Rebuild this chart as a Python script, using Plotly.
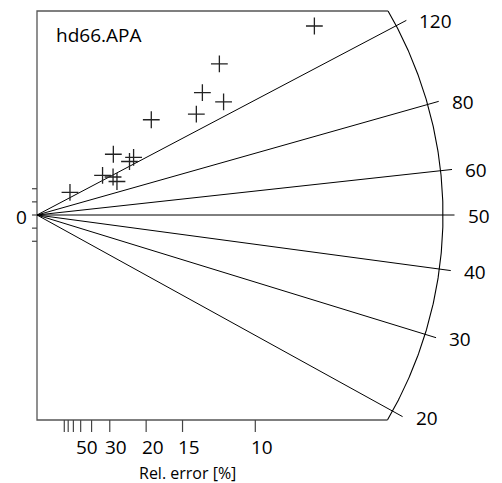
import numpy as np
import plotly.graph_objects as go

# Single-grain ages and their relative standard errors (%)
ages = [156.8, 136.2, 114.7, 100.3, 187.5, 130.7, 134.6, 199.6, 143.0, 170.9, 136.8, 198.0, 155.1]
rel_err = [66.2, 33.3, 28.7, 27.3, 28.6, 23.6, 22.6, 19.1, 13.7, 13.2, 11.7, 11.97, 7.87]

central_age = 50
ray_ages = [120, 80, 60, 50, 40, 30, 20]
err_ticks = [80, 70, 60, 50, 40, 30, 20, 15, 10]
err_labels = [50, 30, 20, 15, 10]
z_ticks = [-2, -1, 0, 1, 2]
sample_name = "hd66.APA"

# layout: pixel scale of the radial plot
W, H = 502, 483
OX, OY = 37, 215          # origin in pixels
PX_X, PX_Y = 21.83, 13.14  # pixels per unit of precision / standardised estimate
Y_LIM = (-205 / PX_Y, 204 / PX_Y)
ARC_R = 406               # arc radius (px)
RAY_R = 417.5             # ray length (px)

x_range = [-OX / PX_X, (W - OX) / PX_X]
y_range = [-(H - OY) / PX_Y, OY / PX_Y]

z0 = np.log(central_age)
t = np.array(ages, float)
s = np.array(rel_err, float) / 100.0
px = 1.0 / s
py = (np.log(t) - z0) / s

FONT = "Open Sans"
fig = go.Figure()

# radial arc
top_ang = np.arcsin(Y_LIM[1] * PX_Y / ARC_R)
bot_ang = np.arcsin(Y_LIM[0] * PX_Y / ARC_R)
th = np.linspace(bot_ang, top_ang, 300)
fig.add_trace(go.Scatter(x=ARC_R * np.cos(th) / PX_X, y=ARC_R * np.sin(th) / PX_Y,
                         mode="lines", line=dict(color="black", width=1.1),
                         hoverinfo="skip", showlegend=False))

# frame: left axis, top and bottom edges running to the arc
x_top = ARC_R * np.cos(top_ang) / PX_X
x_bot = ARC_R * np.cos(bot_ang) / PX_X
fig.add_trace(go.Scatter(x=[x_top, 0, 0, x_bot], y=[Y_LIM[1], Y_LIM[1], Y_LIM[0], Y_LIM[0]],
                         mode="lines", line=dict(color="#555555", width=1.3),
                         hoverinfo="skip", showlegend=False))

# rays of constant age with labels
rx, ry = [], []
annotations = []
for a in ray_ages:
    slope = np.log(a) - z0
    dx, dy = PX_X, PX_Y * slope
    n = np.hypot(dx, dy)
    ex = RAY_R * dx / n / PX_X
    ey = RAY_R * dy / n / PX_Y
    rx += [0, ex, None]
    ry += [0, ey, None]
    annotations.append(dict(x=ex, y=ey, text=str(a), showarrow=False, xanchor="left",
                            yanchor="middle", xshift=11, yshift=-1,
                            font=dict(family=FONT, size=19, color="black")))
fig.add_trace(go.Scatter(x=rx, y=ry, mode="lines", line=dict(color="black", width=1),
                         hoverinfo="skip", showlegend=False))

# left axis ticks (standardised estimate)
tx, ty = [], []
for z in z_ticks:
    tx += [0, -5 / PX_X, None]
    ty += [z, z, None]
annotations.append(dict(x=0, y=0, text="0", showarrow=False, xanchor="right", yanchor="middle",
                        xshift=-8, yshift=-2, font=dict(family=FONT, size=19, color="black")))

# bottom axis ticks (relative error)
for e in err_ticks:
    xv = 100.0 / e
    tx += [xv, xv, None]
    ty += [Y_LIM[0], Y_LIM[0] - 12 / PX_Y, None]
    if e in err_labels:
        annotations.append(dict(x=xv, y=Y_LIM[0], text=str(e), showarrow=False,
                                xanchor="center", yanchor="middle", xshift=6.5, yshift=-27,
                                font=dict(family=FONT, size=19, color="black")))
fig.add_trace(go.Scatter(x=tx, y=ty, mode="lines", line=dict(color="#444444", width=1.2),
                         hoverinfo="skip", showlegend=False))

# data points
fig.add_trace(go.Scatter(x=px, y=py, mode="markers",
                         marker=dict(symbol="cross-thin", size=12,
                                     line=dict(color="#222222", width=1.3)),
                         showlegend=False))

annotations.append(dict(x=0, y=Y_LIM[1], text=sample_name, showarrow=False, xanchor="left",
                        yanchor="middle", xshift=17, yshift=-24,
                        font=dict(family=FONT, size=19, color="black")))
annotations.append(dict(x=187.5 / W, y=0, xref="paper", yref="paper",
                        text="Rel. error [%]", showarrow=False, xanchor="center", yanchor="bottom",
                        yshift=-3, font=dict(family=FONT, size=16, color="black")))

fig.update_layout(width=W, height=H, margin=dict(l=0, r=0, t=0, b=0),
                  paper_bgcolor="white", plot_bgcolor="white",
                  xaxis=dict(range=x_range, visible=False, fixedrange=True),
                  yaxis=dict(range=y_range, visible=False, fixedrange=True),
                  annotations=annotations, showlegend=False)

fig.write_html("out.html")
